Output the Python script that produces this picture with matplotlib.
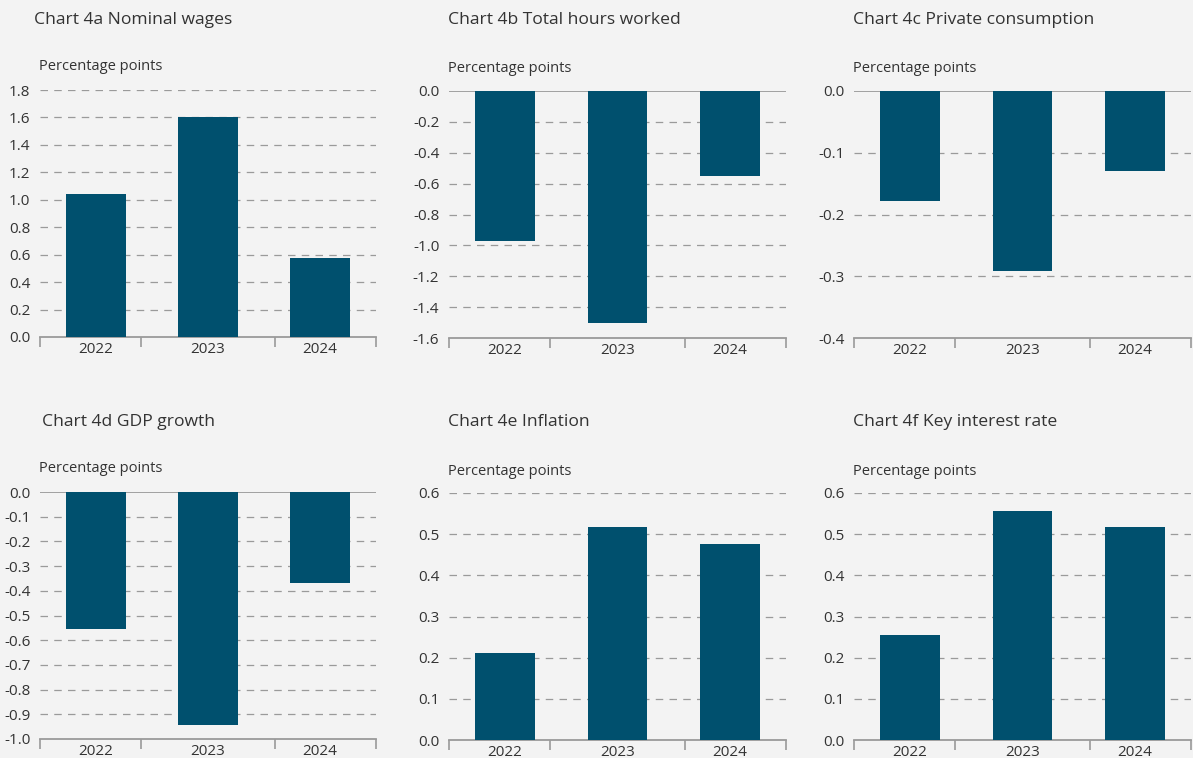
import matplotlib
matplotlib.use('Agg')
import matplotlib.pyplot as plt
from matplotlib.ticker import FixedLocator

# Data
years = ['2022', '2023', '2024']
titles = ['Chart 4a Nominal wages', 'Chart 4b Total hours worked',
          'Chart 4c Private consumption', 'Chart 4d GDP growth',
          'Chart 4e Inflation', 'Chart 4f Key interest rate']
nominal_wages = [1.045, 1.605, 0.573]
hours_worked = [-0.97, -1.505, -0.55]
private_consumption = [-0.178, -0.292, -0.13]
gdp_growth = [-0.553, -0.945, -0.367]
inflation = [0.211, 0.517, 0.476]
key_rate = [0.255, 0.556, 0.517]
y_limits = [(0, 1.8), (-1.6, 0), (-0.4, 0), (-1.0, 0), (0, 0.6), (0, 0.6)]
y_steps = [0.2, 0.2, 0.1, 0.1, 0.1, 0.1]
unit_label = 'Percentage points'

series = [nominal_wages, hours_worked, private_consumption,
          gdp_growth, inflation, key_rate]

BG = '#f3f3f3'
BAR = '#00506e'
TXT = '#333333'
GRID = '#9a9a9a'

plt.rcParams['font.family'] = ['Open Sans', 'DejaVu Sans']

W, H = 1193, 758
fig = plt.figure(figsize=(W / 100, H / 100), dpi=100, facecolor=BG)

# axes boxes in pixels: (left, right, top, bottom)
boxes = [(40, 376, 90, 337), (449, 786, 91, 338), (854, 1191, 91, 338),
         (40, 376, 492, 739), (449, 786, 493, 740), (854, 1191, 493, 740)]
title_pos = [(34, 20), (448, 20), (853, 20), (42, 422), (448, 422), (853, 422)]
unit_pos = [(39, 67), (448, 68), (853, 68), (39, 469), (448, 471), (853, 471)]

for i, vals in enumerate(series):
    l, r, t, b = boxes[i]
    ax = fig.add_axes([l / W, 1 - b / H, (r - l) / W, (b - t) / H])
    ax.set_facecolor(BG)
    x = range(len(years))
    ax.bar(x, vals, width=0.53, color=BAR, zorder=3)
    ymin, ymax = y_limits[i]
    ax.set_xlim(-0.5, 2.5)
    ax.set_ylim(ymin, ymax)
    step = y_steps[i]
    n = int(round((ymax - ymin) / step))
    yt = [round(ymin + k * step, 2) for k in range(n + 1)]
    ax.set_yticks(yt)
    ax.set_yticklabels([f'{v:.1f}' for v in yt])
    for v in yt:
        if ymax <= 0 and abs(v) < 1e-9:
            ax.axhline(v, color=GRID, lw=1.3, zorder=2)
        elif abs(v - ymin) < 1e-9:
            continue
        else:
            ax.axhline(v, color=GRID, lw=0.9, ls=(0, (6, 5)), zorder=1)
    for s in ['top', 'right', 'left']:
        ax.spines[s].set_visible(False)
    ax.spines['bottom'].set_color(GRID)
    ax.spines['bottom'].set_linewidth(1.3)
    ax.set_xticks(list(x))
    ax.set_xticklabels(years)
    ax.xaxis.set_minor_locator(FixedLocator([-0.5, 0.4, 1.6, 2.5]))
    ax.tick_params(axis='x', which='major', length=0, pad=3.5, labelsize=11, labelcolor=TXT)
    ax.tick_params(axis='x', which='minor', length=7, width=1.2, color=GRID, direction='out')
    ax.tick_params(axis='y', length=0, pad=7, labelsize=11, labelcolor=TXT)
    ax.set_axisbelow(True)

    tx, ty = title_pos[i]
    fig.text(tx / W, 1 - ty / H, titles[i], fontsize=12.6, color=TXT, va='center', ha='left')
    ux, uy = unit_pos[i]
    fig.text(ux / W, 1 - uy / H, unit_label, fontsize=10.5, color=TXT, va='center', ha='left')

fig.savefig('out.png', dpi=100, facecolor=BG)
